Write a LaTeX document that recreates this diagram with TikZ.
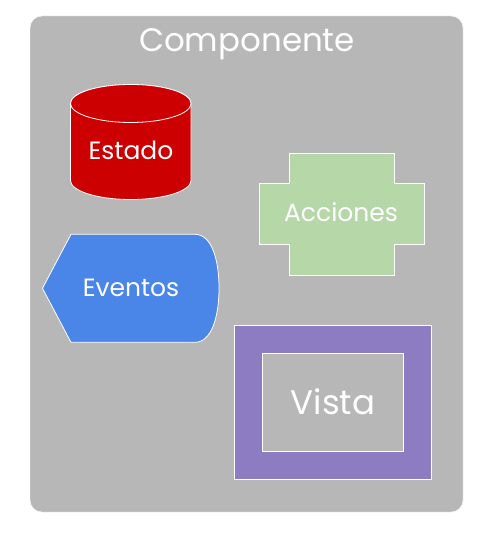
\documentclass[tikz,border=0pt]{standalone}
\usepackage{fontspec}
\setmainfont{Poppins}
\usetikzlibrary{math}

\definecolor{fondo}{HTML}{B7B7B7}
\definecolor{rojo}{HTML}{CC0000}
\definecolor{verde}{HTML}{B6D7A8}
\definecolor{azul}{HTML}{4A86E8}
\definecolor{lila}{HTML}{8E7CC3}

\tikzset{
  forma/.style={draw=white, line width=0.8pt},
  rotulo/.style={text=white, inner sep=0pt, anchor=base, font=\fontsize{25}{28}\selectfont},
}

\begin{document}
\begin{tikzpicture}[x=1pt, y=-1pt]
  \tikzmath{%
    \cxl = 70.5; \cxr = 191; \cyt = 103.5; \cyb = 180.5; \crx = (\cxr - \cxl)/2;
    \ax = 259; \aX = 424; \ay = 153.5; \aY = 275; \bx = 289.5; \bX = 394; \by = 183.5; \bY = 244.5;
  }
  \useasboundingbox (0,0) rectangle (491,534);

  \draw[fill=fondo, draw=white!90!fondo, rounded corners=12pt] (30,16) rectangle (463,512);
  \node[rotulo, font=\fontsize{32.5}{36}\selectfont] (titulo) at (247,52) {Componente};

  % estado
  \draw[forma, fill=rojo] (\cxl,\cyt) -- (\cxl,\cyb)
    arc[start angle=180, end angle=0, x radius=\crx, y radius=19] -- (\cxr,\cyt)
    arc[start angle=0, end angle=-180, x radius=\crx, y radius=19] -- cycle;
  \draw[forma, fill=rojo] (\cxl+\crx,\cyt) ellipse[x radius=\crx, y radius=19];
  \node[rotulo] (estado) at (131,160) {Estado};

  % acciones
  \draw[forma, fill=verde] (\bx,\ay) -- (\bX,\ay) -- (\bX,\by) -- (\aX,\by) -- (\aX,\bY) -- (\bX,\bY)
    -- (\bX,\aY) -- (\bx,\aY) -- (\bx,\bY) -- (\ax,\bY) -- (\ax,\by) -- (\bx,\by) -- cycle;
  \node[rotulo] (acciones) at (341,221.5) {Acciones};

  % eventos
  \draw[forma, fill=azul] (42.5,288.3) -- (71,234.3) -- (195,234.3)
    .. controls (211,234.3) and (219,258) .. (219,288.3)
    .. controls (219,318) and (211,342.3) .. (195,342.3) -- (71,342.3) -- cycle;
  \node[rotulo] (eventos) at (131,296.5) {Eventos};

  % vista
  \draw[forma, fill=lila] (234.5,325.7) rectangle (431.7,479.3);
  \draw[forma, fill=fondo] (262.3,353.3) rectangle (403.7,451.3);
  \node[rotulo, font=\fontsize{34}{38}\selectfont] (vista) at (333,414) {Vista};
\end{tikzpicture}
\end{document}
